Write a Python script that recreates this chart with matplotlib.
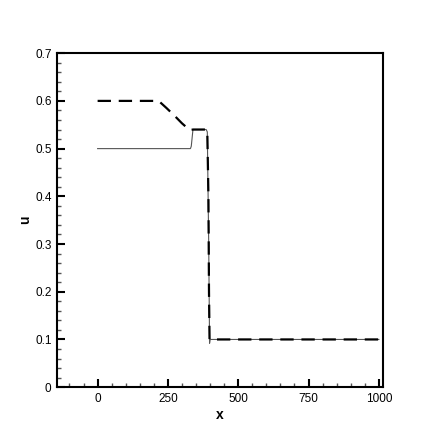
import matplotlib.pyplot as plt
from matplotlib.ticker import MultipleLocator

plt.rcParams['font.family'] = ['Liberation Sans', 'DejaVu Sans']

# dashed (reference) profile
x_ref = [0, 100, 217, 245, 275, 300, 327, 340, 386, 390, 394, 396, 398, 1000]
u_ref = [0.6, 0.6, 0.6, 0.585, 0.568, 0.553, 0.539, 0.54, 0.54, 0.535, 0.40, 0.2, 0.1, 0.1]

# thin solid profile
x_num = [0, 100, 330, 333, 339, 386, 390, 395, 398, 400, 1000]
u_num = [0.5, 0.5, 0.5, 0.505, 0.54, 0.54, 0.535, 0.3, 0.092, 0.1, 0.1]

fig = plt.figure(figsize=(4.36, 4.36), dpi=100)
ax = fig.add_axes([0.131, 0.112, 0.747, 0.766])

ax.plot(x_num, u_num, color='#555555', lw=0.8)
ax.plot(x_ref, u_ref, color='black', lw=1.6, dashes=(6, 3.5))

ax.set_xlim(-144, 1014)
ax.set_ylim(0, 0.7)
ax.xaxis.set_major_locator(MultipleLocator(250))
ax.xaxis.set_minor_locator(MultipleLocator(50))
ax.yaxis.set_major_locator(MultipleLocator(0.1))
ax.yaxis.set_minor_locator(MultipleLocator(0.02))
ax.tick_params(which='both', direction='in', top=False, right=False, labelsize=8.5, width=1)
ax.tick_params(which='major', length=6, width=1.5, pad=4)
ax.tick_params(which='minor', length=3, color='#555555')
ax.set_yticks([0, 0.1, 0.2, 0.3, 0.4, 0.5, 0.6, 0.7])
ax.set_yticklabels(['0', '0.1', '0.2', '0.3', '0.4', '0.5', '0.6', '0.7'])
for s in ax.spines.values():
    s.set_linewidth(1.5)

ax.set_xlabel('x', fontsize=10, fontweight='bold', labelpad=2)
ax.set_ylabel('u', fontsize=10, fontweight='bold', labelpad=2)

fig.savefig('out.png', dpi=100)
